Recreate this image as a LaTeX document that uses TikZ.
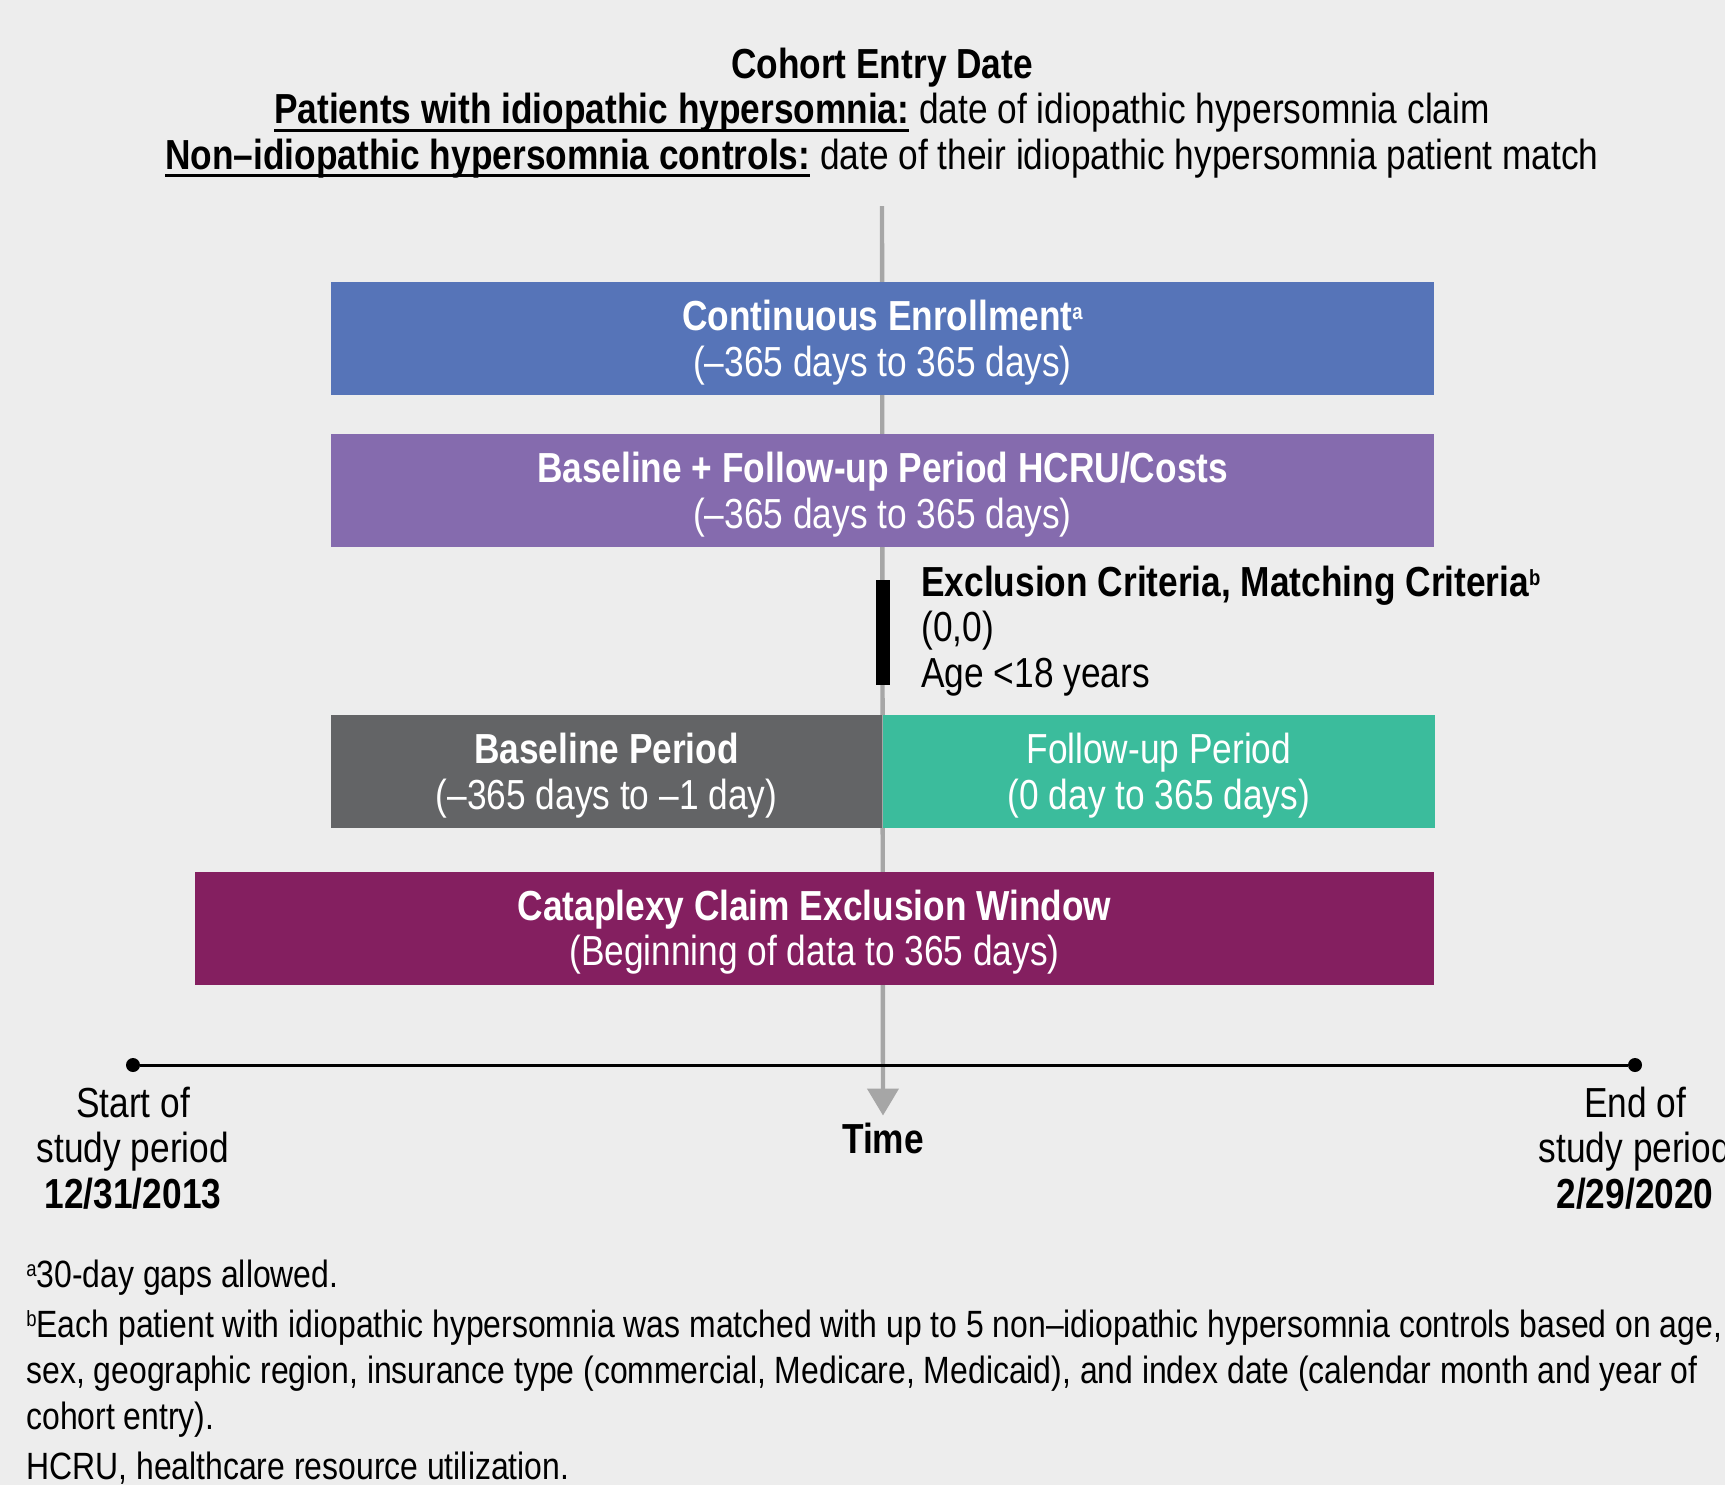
\documentclass[tikz,border=0pt]{standalone}
\usepackage{fontspec}
\setmainfont{Liberation Sans}[FakeStretch=0.84]
\usetikzlibrary{arrows.meta, positioning}

\definecolor{bgcol}{HTML}{EDEDED}
\definecolor{enrolblue}{HTML}{5674B8}
\definecolor{hcrupurple}{HTML}{856BAE}
\definecolor{basegray}{HTML}{636466}
\definecolor{followgreen}{HTML}{3BBC9C}
\definecolor{cataplum}{HTML}{841F60}
\definecolor{axisgray}{HTML}{A6A6A6}

% bold text with a heavy underline
\newcommand{\ulbold}[1]{\setbox0\hbox{\textbf{#1}}\rlap{\rule[-4pt]{\wd0}{1.5pt}}\box0\relax}
% small raised note letter
\newcommand{\noteref}[1]{\raisebox{5.5pt}{\fontsize{11}{11}\selectfont #1}}

\begin{document}
\begin{tikzpicture}[
                x = 0.5pt, y = -0.5pt, % pixel grid, y runs downwards
                > = {Triangle[width = 15.5pt, length = 13.5pt]}, % arrow head style
                node distance = 19pt, % gap between stacked boxes
                font = \fontsize{21}{22.75}\selectfont
            ]

            \tikzstyle{periodbox}=[inner sep = 0pt, minimum height = 56.5pt,
            text = white, align = center, text depth = 0pt]
            \tikzstyle{dot}=[circle, fill = black, inner sep = 0pt, minimum size = 7pt]

            % page
            \fill[bgcol] (0,0) rectangle (1725,1485);
            \useasboundingbox (0,0) rectangle (1725,1485);

            \node (head) [align = center] at (882,113) {\textbf{Cohort Entry Date}\\
            \ulbold{Patients with idiopathic hypersomnia:} date of idiopathic hypersomnia claim\\
            \ulbold{Non–idiopathic hypersomnia controls:} date of their idiopathic hypersomnia patient match};

            % time arrow, behind the boxes
            \coordinate (top) at (882,206);
            \node (time) [font = \fontsize{21}{22.75}\selectfont\bfseries] at (883,1138) {Time};
            \draw[axisgray, line width = 2.2pt, ->] (top) -- (time.north);

            \node (enrol) [periodbox, fill = enrolblue, minimum width = 551.5pt] at (882.5,338.5)
            {\textbf{Continuous Enrollment\noteref{a}}\\(–365 days to 365 days)};
            \node (hcru) [periodbox, fill = hcrupurple, minimum width = 551.5pt, below = of enrol]
            {\textbf{Baseline + Follow-up Period HCRU/Costs}\\(–365 days to 365 days)};

            \node (mark) [fill = black, inner sep = 0pt, minimum width = 7pt,
            minimum height = 52.5pt] at (883,632.5) {};
            \node (crit) [anchor = west, align = left, inner sep = 0pt] at (921,631)
            {\textbf{Exclusion Criteria, Matching Criteria\noteref{b}}\\(0,0)\\Age <18 years};

            \node (base) [periodbox, fill = basegray, minimum width = 275.5pt] at (606.5,771.5)
            {\textbf{Baseline Period}\\(–365 days to –1 day)};
            \node (follow) [periodbox, fill = followgreen, minimum width = 276pt, right = 0pt of base]
            {Follow-up Period\\(0 day to 365 days)};
            \node (cata) [periodbox, fill = cataplum, minimum width = 619.5pt] at (814.5,928)
            {\textbf{Cataplexy Claim Exclusion Window}\\(Beginning of data to 365 days)};

            % study period axis
            \node (start) [dot] at (133,1065) {}; \node (end) [dot] at (1635,1065) {};
            \draw[line width = 1.5pt] (start) -- (end);
            \node (startlbl) [below = 7pt of start, align = center, inner sep = 0pt]
            {Start of\\study period\\\textbf{12/31/2013}};
            \node (endlbl) [below = 7pt of end, align = center, inner sep = 0pt]
            {End of\\study period\\\textbf{2/29/2020}};

            \node (notes) [anchor = north west, align = left, inner sep = 0pt,
            font = \fontsize{19}{23}\selectfont] at (26,1260)
            {\noteref{a}30-day gaps allowed.\\[2pt]
            \noteref{b}Each patient with idiopathic hypersomnia was matched with up to 5 non–idiopathic hypersomnia controls based on age,\\
            sex, geographic region, insurance type (commercial, Medicare, Medicaid), and index date (calendar month and year of\\
            cohort entry).\\[2pt]
            HCRU, healthcare resource utilization.};

        \end{tikzpicture}
\end{document}
